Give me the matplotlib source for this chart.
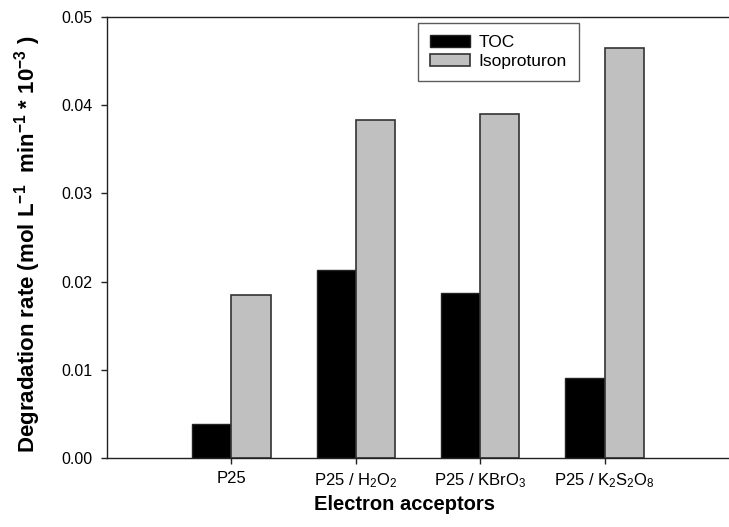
import matplotlib
matplotlib.use("Agg")
import matplotlib.pyplot as plt
import numpy as np

plt.rcParams['font.family'] = ['Liberation Sans', 'DejaVu Sans']
plt.rcParams['mathtext.fontset'] = 'custom'
plt.rcParams['mathtext.rm'] = 'Liberation Sans'
plt.rcParams['mathtext.it'] = 'Liberation Sans:italic'
plt.rcParams['mathtext.bf'] = 'Liberation Sans:bold'

categories = ["P25", "P25 / H$_2$O$_2$", "P25 / KBrO$_3$", "P25 / K$_2$S$_2$O$_8$"]
toc = [0.00385, 0.0213, 0.0187, 0.0091]
isoproturon = [0.0185, 0.0383, 0.0390, 0.0465]
yticks = [0.00, 0.01, 0.02, 0.03, 0.04, 0.05]

W, H = 729, 527
fig = plt.figure(figsize=(W/100, H/100), dpi=100)
ax = fig.add_axes([107/W, 1-458/H, 1-107/W, (458-17)/H])

x = np.arange(1, len(categories)+1)
w = 0.315
ax.bar(x - w/2, toc, w, color='black', edgecolor='#222222', linewidth=1, label='TOC')
ax.bar(x + w/2, isoproturon, w, color='#c0c0c0', edgecolor='#333333', linewidth=1.2, label='Isoproturon')

ax.set_xlim(0, 5)
ax.set_ylim(0, 0.05)
ax.set_yticks(yticks)
ax.set_yticklabels([f"{v:.2f}" for v in yticks], fontsize=11.5)
ax.set_xticks(x)
ax.set_xticklabels(categories, fontsize=12)
ax.tick_params(axis='both', direction='out', length=4.5, width=1, color='#222222')
ax.tick_params(axis='y', pad=6)
ax.tick_params(axis='x', pad=5)

for s in ['left', 'top', 'bottom']:
    ax.spines[s].set_linewidth(1)
    ax.spines[s].set_color('#222222')
ax.spines['right'].set_visible(False)

fig.text(28/W, 1-453/H,
         "Degradation rate (mol L$^{\\mathbf{-1}}$  min$^{\\mathbf{-1}}$ * 10$^{\\mathbf{-3}}$ )",
         rotation=90, ha='center', va='bottom', fontsize=16, fontweight='bold')
fig.text(405/W, 1-505/H, "Electron acceptors", ha='center', va='center',
         fontsize=14.5, fontweight='bold')

leg = ax.legend(loc='upper left', bbox_to_anchor=((418-107)/(W-107), 1-(23-17)/441),
                fontsize=12.5, frameon=True, fancybox=False, borderpad=0.7,
                handlelength=2.3, handleheight=0.7, handletextpad=0.5, labelspacing=0.2,
                borderaxespad=0)
leg.get_frame().set_edgecolor('#333333')
leg.get_frame().set_linewidth(1)

fig.savefig("out.png", dpi=100)
